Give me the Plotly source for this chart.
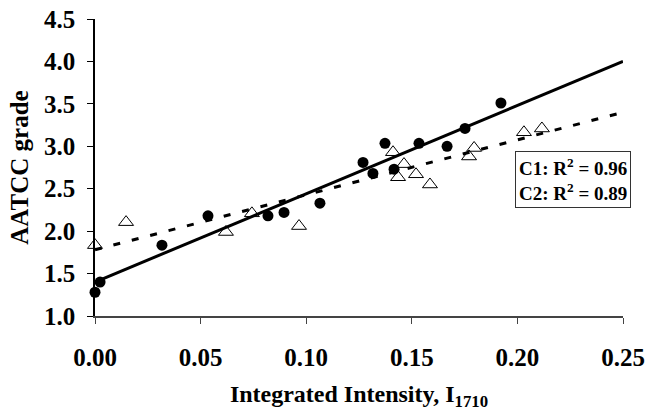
import plotly.graph_objects as go

# C1 (filled circles)
c1_x = [0.000, 0.0024, 0.0317, 0.0535, 0.0819, 0.0895, 0.1065, 0.1269, 0.1316,
        0.1373, 0.1416, 0.1534, 0.1667, 0.1752, 0.1922]
c1_y = [1.28, 1.40, 1.835, 2.18, 2.18, 2.22, 2.33, 2.81, 2.68,
        3.035, 2.73, 3.035, 3.00, 3.21, 3.51]
# C2 (open triangles)
c2_x = [0.000, 0.0147, 0.0620, 0.0743, 0.0966, 0.1411, 0.1463, 0.1435, 0.1520,
        0.1586, 0.1771, 0.1795, 0.2031, 0.2116]
c2_y = [1.835, 2.106, 1.99, 2.21, 2.06, 2.93, 2.79, 2.635, 2.67,
        2.55, 2.88, 2.98, 3.165, 3.21]
# Trend lines (endpoints at x = 0 and x = 0.25)
fit_x = [0.0, 0.25]
fit1_y = [1.40, 4.00]
fit2_y = [1.78, 3.40]

x_ticks = [0.00, 0.05, 0.10, 0.15, 0.20, 0.25]
y_ticks = [1.0, 1.5, 2.0, 2.5, 3.0, 3.5, 4.0, 4.5]
legend_text = "<b>C1: R<sup>2</sup> = 0.96<br>C2: R<sup>2</sup> = 0.89</b>"

FONT = "Liberation Serif"

fig = go.Figure()
fig.add_trace(go.Scatter(x=fit_x, y=fit1_y, mode="lines",
                         line=dict(color="black", width=3), cliponaxis=False))
fig.add_trace(go.Scatter(x=fit_x, y=fit2_y, mode="lines",
                         line=dict(color="black", width=3, dash="7px,12px"), cliponaxis=False))
fig.add_trace(go.Scatter(x=c2_x, y=c2_y, mode="markers", cliponaxis=False,
                         marker=dict(symbol="triangle-up-open", size=13, color="black",
                                     line=dict(width=1, color="black"))))
fig.add_trace(go.Scatter(x=c1_x, y=c1_y, mode="markers", cliponaxis=False,
                         marker=dict(symbol="circle", size=11, color="black")))

fig.add_annotation(xref="paper", yref="paper", x=(573 - 95) / 528, y=(316 - 179) / 297,
                   text=legend_text, showarrow=False, align="left",
                   font=dict(family=FONT, size=19, color="black"),
                   bordercolor="#333", borderwidth=1, borderpad=3, bgcolor="white",
                   xanchor="center", yanchor="middle")

fig.update_layout(
    width=647, height=411,
    margin=dict(l=95, r=24, t=19, b=95, autoexpand=False),
    plot_bgcolor="white", paper_bgcolor="white",
    showlegend=False,
    font=dict(family=FONT, color="black"),
    xaxis=dict(range=[0, 0.25], tickvals=x_ticks, tickformat=".2f", automargin=False,
               showgrid=False, zeroline=False, showline=True, linecolor="#444", linewidth=2,
               ticks="outside", ticklen=6, tickcolor="#444", tickwidth=1,
               tickfont=dict(family=FONT, size=25, color="black", weight="bold"),
               ticklabelstandoff=12,
               title=dict(text="<b>Integrated Intensity, I<sub>1710</sub></b>",
                          font=dict(family=FONT, size=24, color="black"), standoff=27)),
    yaxis=dict(range=[1, 4.5], tickvals=y_ticks, tickformat=".1f", automargin=False,
               showgrid=False, zeroline=False, showline=True, linecolor="black", linewidth=1.5,
               ticks="outside", ticklen=6, tickcolor="black", tickwidth=1,
               tickfont=dict(family=FONT, size=25, color="black", weight="bold"),
               ticklabelstandoff=7,
               title=dict(text="<b>AATCC grade</b>",
                          font=dict(family=FONT, size=25, color="black"), standoff=8)),
)

fig.write_html("out.html")
